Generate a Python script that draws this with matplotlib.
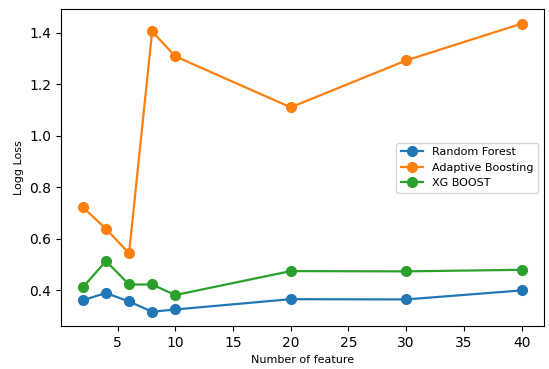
import matplotlib
matplotlib.use('Agg')
import matplotlib.pyplot as plt

# 특징 개수별 Log Loss
n_features = [2, 4, 6, 8, 10, 20, 30, 40]
random_forest = [0.362, 0.390, 0.357, 0.317, 0.326, 0.366, 0.365, 0.400]
adaptive_boosting = [0.723, 0.639, 0.544, 1.406, 1.309, 1.111, 1.293, 1.436]
xg_boost = [0.412, 0.514, 0.423, 0.423, 0.382, 0.475, 0.474, 0.480]

fig = plt.figure(figsize=(5.49, 3.69), dpi=100)
ax = fig.add_axes([0.111, 0.116, 0.879, 0.859])

ax.plot(n_features, random_forest, marker='o', markersize=7, linewidth=1.6, label='Random Forest')
ax.plot(n_features, adaptive_boosting, marker='o', markersize=7, linewidth=1.6, label='Adaptive Boosting')
ax.plot(n_features, xg_boost, marker='o', markersize=7, linewidth=1.6, label='XG BOOST')

ax.set_xlabel('Number of feature', fontsize=8)
ax.set_ylabel('Logg Loss', fontsize=8)
ax.tick_params(labelsize=10)
ax.legend(loc='center right', fontsize=8)

fig.savefig('out.png', dpi=100)
